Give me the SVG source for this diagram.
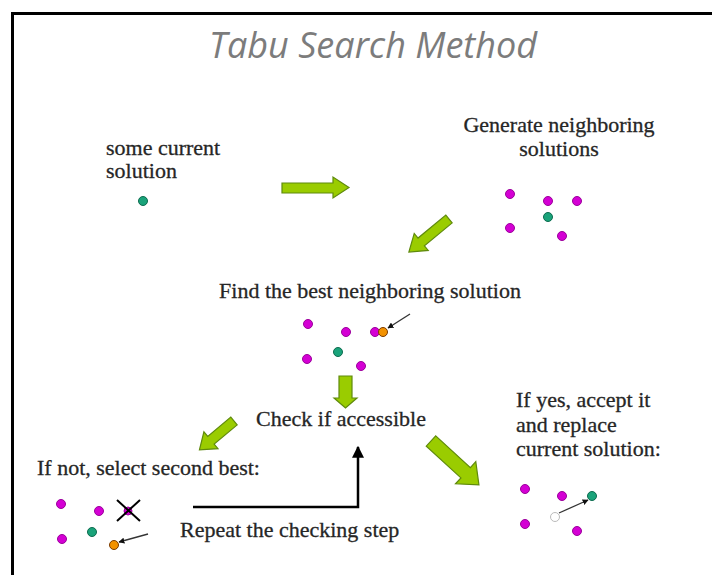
<svg xmlns="http://www.w3.org/2000/svg" width="712" height="575" viewBox="0 0 712 575">
<defs>
<style>
.t{font-family:"Liberation Serif","Times New Roman",serif;font-size:22px;fill:#262626;stroke:#262626;stroke-width:0.3}
.title{font-family:"Open Sans","Liberation Sans",sans-serif;font-style:italic;font-size:36px;fill:#7c7c7c}
.m{fill:#d400d4;stroke:#9b009b;stroke-width:1}
.g{fill:#1aa37a;stroke:#0d6b4f;stroke-width:1}
.o{fill:#f39200;stroke:#7a3a00;stroke-width:1}
.w{fill:#fff;stroke:#bbb;stroke-width:1}
.ga{fill:#9acc00;stroke:#5f8a0c;stroke-width:1.2;stroke-linejoin:miter}
.sa{stroke:#333;stroke-width:1.3;fill:none}
</style>
<marker id="ah" viewBox="0 0 10 10" refX="9" refY="5" markerWidth="6" markerHeight="6" orient="auto" markerUnits="userSpaceOnUse">
<path d="M0,0 L10,5 L0,10 Z" fill="#111"/>
</marker>
<marker id="bh" viewBox="0 0 10 10" refX="9" refY="5" markerWidth="12" markerHeight="12" orient="auto" markerUnits="userSpaceOnUse">
<path d="M0,0 L10,5 L0,10 Z" fill="#000"/>
</marker>
</defs>
<rect width="712" height="575" fill="#fff"/>
<path d="M12.5,575 V13.5 H712" fill="none" stroke="#000" stroke-width="3"/>
<text class="title" x="373" y="58" text-anchor="middle">Tabu Search Method</text>

<g id="current">
<text class="t" x="106" y="155">some current</text>
<text class="t" x="106" y="178">solution</text>
<circle class="g" cx="143" cy="201" r="4.5"/>
</g>

<g id="generate">
<text class="t" x="559" y="132" text-anchor="middle">Generate neighboring</text>
<text class="t" x="559" y="156" text-anchor="middle">solutions</text>
<circle class="m" cx="510" cy="194" r="4.5"/>
<circle class="m" cx="548" cy="201" r="4.5"/>
<circle class="m" cx="577" cy="201" r="4.5"/>
<circle class="g" cx="548" cy="217" r="4.5"/>
<circle class="m" cx="510" cy="228" r="4.5"/>
<circle class="m" cx="562" cy="236" r="4.5"/>
</g>

<g id="find">
<text class="t" x="370" y="298" text-anchor="middle">Find the best neighboring solution</text>
<circle class="m" cx="308" cy="324" r="4.5"/>
<circle class="m" cx="346" cy="332" r="4.5"/>
<circle class="m" cx="375" cy="332" r="4.5"/>
<circle class="o" cx="383" cy="332" r="4.5"/>
<circle class="g" cx="338" cy="352" r="4.5"/>
<circle class="m" cx="307" cy="359" r="4.5"/>
<circle class="m" cx="361" cy="366" r="4.5"/>
<line class="sa" x1="410" y1="314" x2="388" y2="328" marker-end="url(#ah)"/>
</g>

<g id="check">
<text class="t" x="341" y="426" text-anchor="middle">Check if accessible</text>
</g>

<g id="second">
<text class="t" x="37" y="475">If not, select second best:</text>
<circle class="m" cx="61" cy="504" r="4.5"/>
<circle class="m" cx="99" cy="511" r="4.5"/>
<circle class="m" cx="62" cy="539" r="4.5"/>
<circle class="g" cx="92" cy="532" r="4.5"/>
<circle class="o" cx="114" cy="545" r="4.5"/>
<circle class="m" cx="128" cy="511" r="4"/>
<path d="M117,500 L140,521 M140,500 L117,521" stroke="#000" stroke-width="2" fill="none"/>
<line class="sa" x1="148" y1="534" x2="119" y2="542" marker-end="url(#ah)"/>
</g>

<g id="repeat">
<text class="t" x="180" y="537">Repeat the checking step</text>
</g>

<g id="accept">
<text class="t" x="516" y="407">If yes, accept it</text>
<text class="t" x="516" y="432">and replace</text>
<text class="t" x="516" y="456">current solution:</text>
<circle class="m" cx="525" cy="489" r="4.5"/>
<circle class="m" cx="562" cy="496" r="4.5"/>
<circle class="g" cx="592" cy="496" r="4.5"/>
<circle class="w" cx="555" cy="517" r="4.5"/>
<circle class="m" cx="525" cy="524" r="4.5"/>
<circle class="m" cx="577" cy="531" r="4.5"/>
<line class="sa" x1="559" y1="513" x2="588" y2="500" marker-end="url(#ah)"/>
</g>

<g id="connectors">
<polygon class="ga" points="282,183 333,183 333,177 349,187.5 333,198 333,193 282,193"/>
<path class="ga" transform="translate(449,219) rotate(140.5)" d="M0,-5 L36,-5 L36,-11 L52,0 L36,11 L36,5 L0,5 Z"/>
<polygon class="ga" points="339,376 352,376 352,398 357,398 345.5,408 334,398 339,398"/>
<path class="ga" transform="translate(234,421) rotate(140.2)" d="M0,-5 L30,-5 L30,-11 L45,0 L30,11 L30,5 L0,5 Z"/>
<path class="ga" transform="translate(431,441) rotate(42.5)" d="M0,-7 L47,-7 L47,-15 L65,0 L47,15 L47,7 L0,7 Z"/>
<path d="M193,507 H358 V447" fill="none" stroke="#000" stroke-width="2.5" marker-end="url(#bh)"/>
</g>
</svg>
